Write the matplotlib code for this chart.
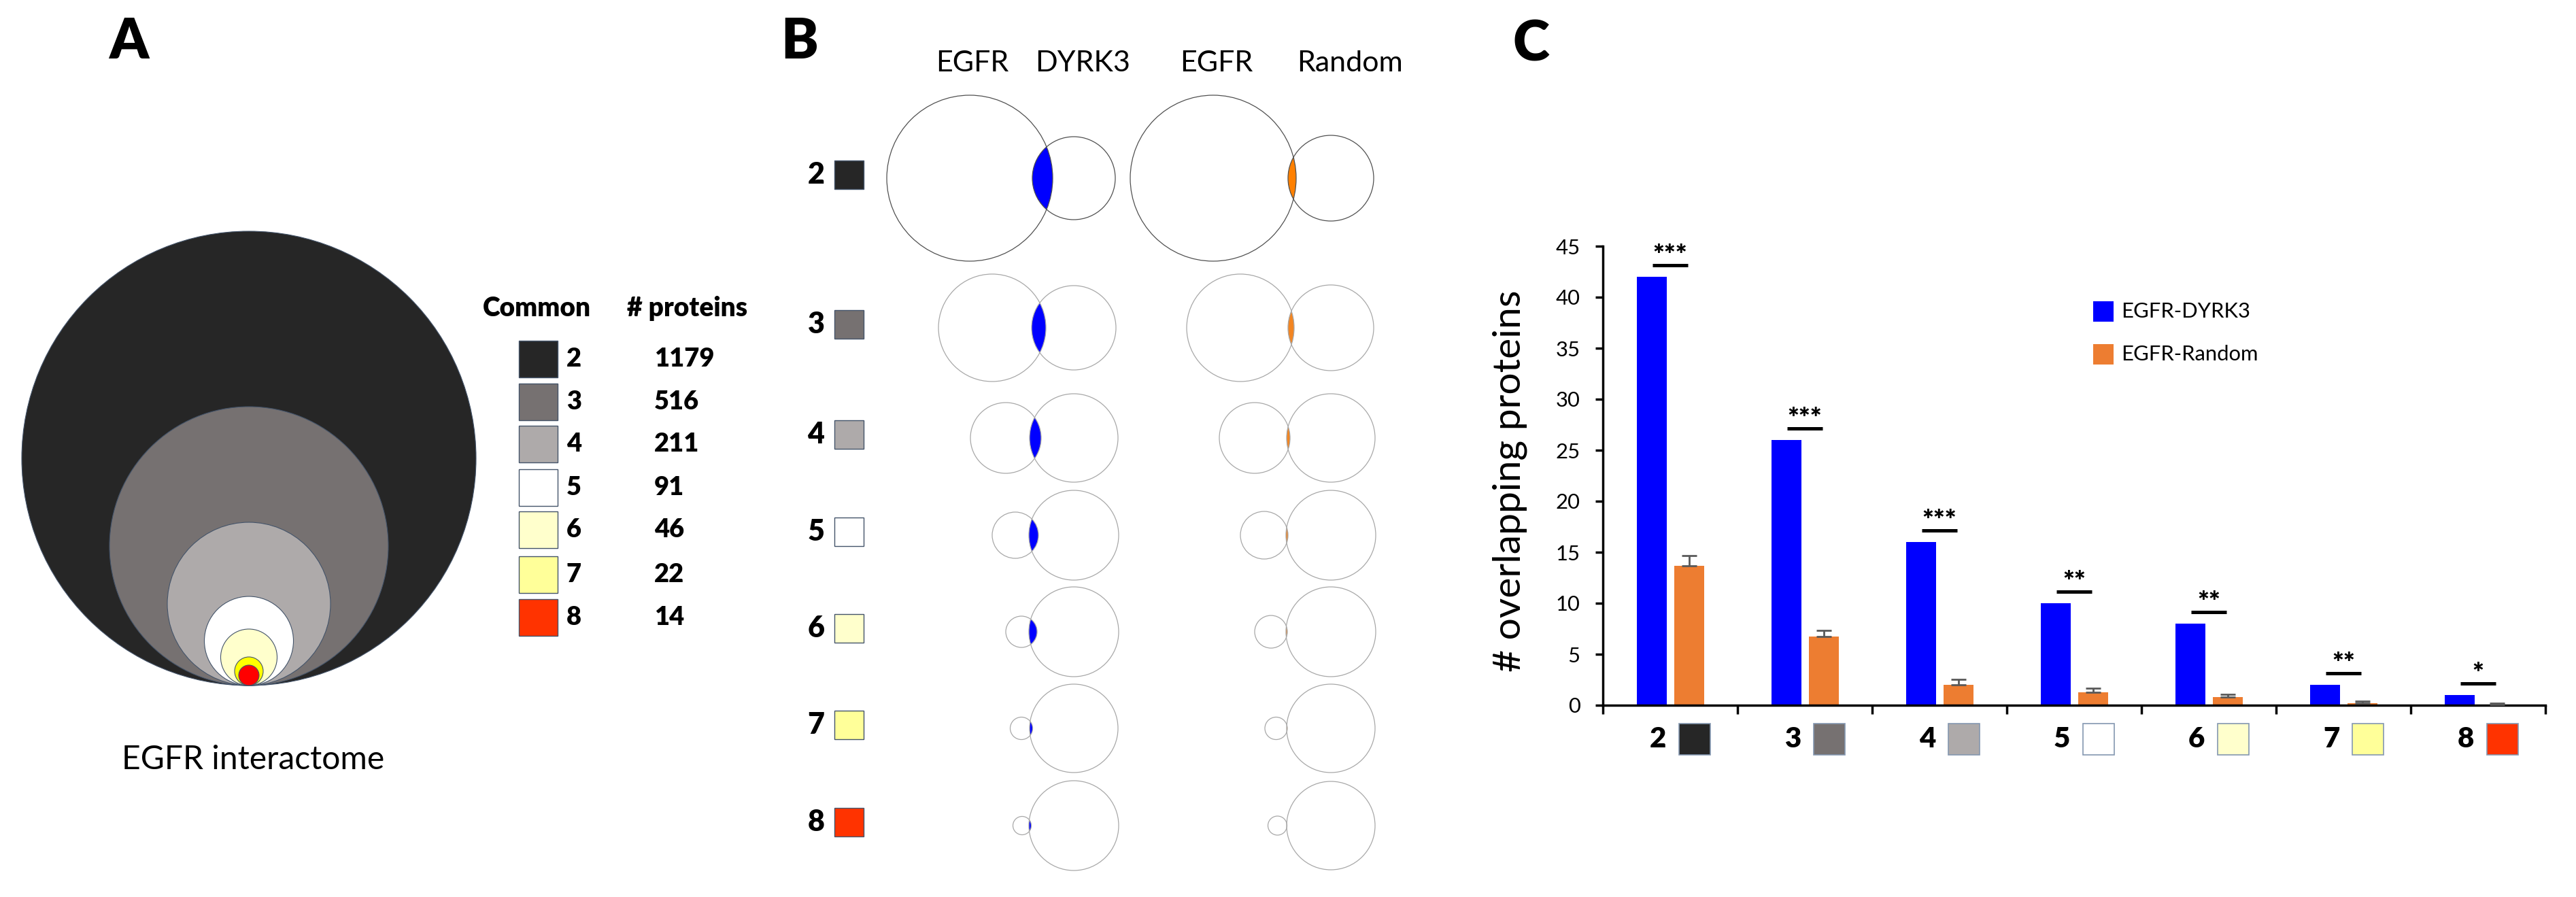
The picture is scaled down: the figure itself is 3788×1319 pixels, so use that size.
import numpy as np
import matplotlib
matplotlib.use('Agg')
import matplotlib.pyplot as plt
from matplotlib.patches import Circle, Rectangle

plt.rcParams['font.family'] = ['Lato', 'DejaVu Sans']

# ---- data ----
levels = ['2', '3', '4', '5', '6', '7', '8']
level_colors = ['#262626', '#767171', '#AEAAAA', '#FFFFFF', '#FFFFCC', '#FFFF99', '#FF3300']
circle_colors = ['#262626', '#767171', '#AEAAAA', '#FFFFFF', '#FFFFCC', '#FFFF00', '#FF0000']
n_proteins = [1179, 516, 211, 91, 46, 22, 14]
nest_radius = [334, 205, 120, 65.5, 41.5, 21, 15]   # drawn radius of nested circles (px)

# venn sizes per level (px): EGFR circle, partner circle, overlap depth
egfr_r_dyrk3 = [122, 79, 52, 34, 23, 16.5, 13.5]
dyrk3_r = [61, 62, 65, 66, 66, 65, 66]
dyrk3_depth = [30, 21, 17, 14, 12, 4.5, 3.5]
egfr_r_rand = [122, 79, 52, 35, 24, 16.5, 14]
rand_r = [63, 63, 65, 66, 66, 65, 65]
rand_depth = [12, 9, 5, 3, 2, 1, 0.5]

overlap_dyrk3 = [42, 26, 16, 10, 8, 2, 1]
overlap_rand = [13.7, 6.75, 2.0, 1.3, 0.8, 0.2, 0.1]
overlap_rand_err = [1.0, 0.6, 0.55, 0.4, 0.25, 0.2, 0.1]
stars = ['***', '***', '***', '**', '**', '**', '*']

W, H = 3788, 1319
fig = plt.figure(figsize=(W / 100, H / 100), dpi=100)
ov = fig.add_axes([0, 0, 1, 1])
ov.set_xlim(0, W)
ov.set_ylim(H, 0)
ov.axis('off')

def pt(px):
    return px * 72 / 100

HEAVY = 'heavy'

# ---- panel labels ----
for lab, x, y in [('A', 189, 63), ('B', 1176, 63), ('C', 2251, 66)]:
    ov.text(x, y, lab, fontsize=pt(82), fontweight=HEAVY, ha='center', va='center')

# ---- panel A: nested circles ----
cx, base = 366, 1008
for r, c in zip(nest_radius, circle_colors):
    ov.add_patch(Circle((cx, base - r), r, facecolor=c, edgecolor='#44546A', lw=0.8))
ov.text(372, 1131, 'EGFR interactome', fontsize=pt(48), ha='center', va='baseline')

ov.text(710, 465, 'Common', fontsize=pt(39), fontweight=HEAVY, ha='left', va='baseline')
ov.text(922, 465, '# proteins', fontsize=pt(39), fontweight=HEAVY, ha='left', va='baseline')
rowA = [528, 591, 653, 717, 779, 845, 908]
for y, lev, c, n in zip(rowA, levels, level_colors, n_proteins):
    ov.add_patch(Rectangle((763, y - 27), 57, 54, facecolor=c, edgecolor='#44546A', lw=1))
    ov.text(833, y, lev, fontsize=pt(38), fontweight=HEAVY, ha='left', va='center')
    ov.text(962, y, str(n), fontsize=pt(38), fontweight=HEAVY, ha='left', va='center')

# ---- panel B: venn rows ----
for x, t in [(1430, 'EGFR'), (1592, 'DYRK3'), (1789, 'EGFR'), (1985, 'Random')]:
    ov.text(x, 105, t, fontsize=pt(43), ha='center', va='baseline')

rowB = [262, 482, 644, 787, 929, 1071, 1214]

def venn(y, px, r1, r2, d, fill, edge):
    ex = px - (r1 + r2 - d)
    c1 = Circle((ex, y), r1, facecolor='none', edgecolor=edge, lw=0.9, zorder=3)
    c2 = Circle((px, y), r2, facecolor='none', edgecolor=edge, lw=0.9, zorder=3)
    ov.add_patch(c1)
    ov.add_patch(c2)
    lens = Circle((px, y), r2, facecolor=fill, edgecolor='none', zorder=2)
    ov.add_patch(lens)
    lens.set_clip_path(c1)

for i, y in enumerate(rowB):
    edge = '#505050' if i == 0 else '#A8A8A8'
    ov.text(1200, y - 5, levels[i], fontsize=pt(43), fontweight=HEAVY, ha='center', va='center')
    ov.add_patch(Rectangle((1227, y - 26), 43, 42, facecolor=level_colors[i], edgecolor='#44546A', lw=1))
    venn(y, 1579, egfr_r_dyrk3[i], dyrk3_r[i], dyrk3_depth[i], '#0000FF', edge)
    venn(y, 1957, egfr_r_rand[i], rand_r[i], rand_depth[i], '#F28522' if i else '#FF8000', edge)

# ---- panel C: bar chart ----
ax = fig.add_axes([2357 / W, (H - 1037) / H, 1386 / W, 675 / H])
ax.patch.set_alpha(0)
x = np.arange(len(levels))
ax.bar(x - 0.137, overlap_dyrk3, width=0.222, color='#0000FF', label='EGFR-DYRK3', zorder=2)
ax.bar(x + 0.141, overlap_rand, width=0.222, color='#ED7D31', label='EGFR-Random', zorder=2)
ax.errorbar(x + 0.141, overlap_rand, yerr=[np.zeros(len(x)), overlap_rand_err], fmt='none',
            ecolor='#595959', elinewidth=2, capsize=8, capthick=2, zorder=3)
for xi, v, s in zip(x, overlap_dyrk3, stars):
    ly = v + 1.15
    ax.plot([xi - 0.13, xi + 0.13], [ly, ly], color='black', lw=3.6, solid_capstyle='butt')
    ax.text(xi, ly + 0.1, s, fontsize=pt(40), fontweight=HEAVY, ha='center', va='baseline')

ax.set_xlim(-0.5, len(levels) - 0.5)
ax.set_ylim(0, 45)
ax.set_yticks(range(0, 46, 5))
ax.tick_params(axis='y', direction='out', length=8, width=2.5, labelsize=pt(31), pad=16)
ax.set_xticks(x)
ax.set_xticklabels([''] * len(x))
ax.tick_params(axis='x', which='major', length=0)
ax.set_xticks(np.arange(-0.5, len(levels)), minor=True)
ax.tick_params(axis='x', which='minor', direction='out', length=9, width=2.5)
for sp in ['top', 'right']:
    ax.spines[sp].set_visible(False)
for sp in ['left', 'bottom']:
    ax.spines[sp].set_linewidth(2.5)

tr = ax.get_xaxis_transform()
for xi, lev, c in zip(x, levels, level_colors):
    ax.text(xi - 0.09, -0.074, lev, transform=tr, fontsize=pt(42), fontweight=HEAVY,
            ha='center', va='center', clip_on=False)
    ax.add_patch(Rectangle((xi + 0.18 - 0.116, -0.108), 0.232, 0.068, transform=tr,
                           facecolor=c, edgecolor='#8497B0', lw=1.2, clip_on=False))

ov.text(2220, 707, '# overlapping proteins', fontsize=pt(57), rotation=90, ha='center', va='center')

# legend for C
for y, c, t in [(458, '#0000FF', 'EGFR-DYRK3'), (521, '#ED7D31', 'EGFR-Random')]:
    ov.add_patch(Rectangle((3078, y - 15), 30, 30, facecolor=c, edgecolor='none'))
    ov.text(3119, y, t, fontsize=pt(31), ha='left', va='center')

fig.savefig('out.png', dpi=100)
